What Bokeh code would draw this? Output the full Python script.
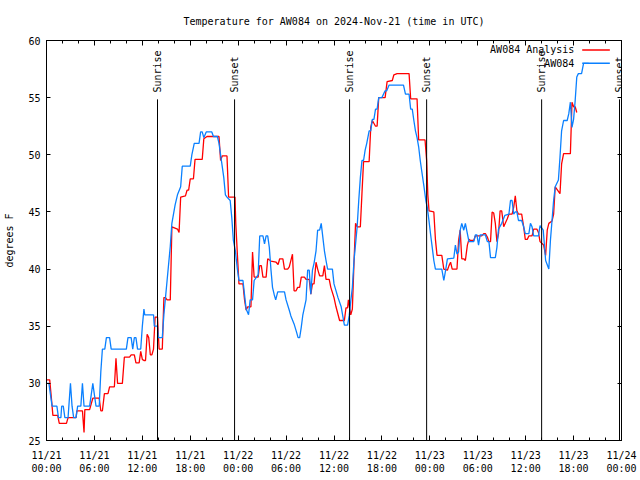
from math import pi
from bokeh.plotting import figure
from bokeh.models import FixedTicker, LinearAxis, Range1d
from bokeh.core.properties import value
from bokeh.embed import file_html
from bokeh.resources import INLINE

# ---------------- data ----------------
title_text = "Temperature for AW084 on 2024-Nov-21 (time in UTC)"
y_label = "degrees F"

x_tick_hours = [0, 6, 12, 18, 24, 30, 36, 42, 48, 54, 60, 66, 72]
x_tick_labels = ["11/21\n00:00", "11/21\n06:00", "11/21\n12:00", "11/21\n18:00",
                 "11/22\n00:00", "11/22\n06:00", "11/22\n12:00", "11/22\n18:00",
                 "11/23\n00:00", "11/23\n06:00", "11/23\n12:00", "11/23\n18:00",
                 "11/24\n00:00"]
x_minor_hours = list(range(0, 73, 2))
y_ticks = [25, 30, 35, 40, 45, 50, 55, 60]

sun_hours = [13.9, 23.55, 37.95, 47.6, 62.0, 71.75]
sun_labels = ["Sunrise", "Sunset", "Sunrise", "Sunset", "Sunrise", "Sunset"]

series_names = ["AW084 Analysis", "AW084"]
series_colors = ["#ff0000", "#0a80ff"]

# observed AW084 (hours since 11/21 00:00 UTC, deg F)
obs_hours = [0.0, 0.3, 0.5, 0.7, 1.3, 1.5, 1.8, 1.9, 2.1, 2.3, 2.7, 2.9, 3.0, 3.2, 3.4, 3.7,
             3.9, 4.3, 4.5, 4.7, 5.4, 5.6, 5.8, 6.0, 6.2, 6.6, 6.8, 7.0, 7.3, 7.5, 7.9, 8.1,
             10.0, 10.2, 10.6, 10.8, 11.0, 11.2, 11.4, 11.8, 12.0, 12.2, 12.3, 13.4, 13.5, 13.9,
             14.0, 14.5, 14.7, 15.1, 15.5, 15.7, 16.1, 16.4, 16.8, 17.0, 18.0, 18.2, 18.5, 19.1,
             19.3, 19.5, 19.7, 20.0, 20.7, 20.9, 21.4, 21.6, 21.8, 22.0, 22.2, 22.4, 22.6, 23.0,
             23.2, 23.4, 23.65, 23.9, 24.1, 24.6, 25.0, 25.3, 25.5, 25.8, 26.0, 26.5, 26.7, 27.1,
             27.3, 27.5, 27.7, 27.9, 28.1, 28.3, 28.5, 28.7, 28.95, 29.8, 30.0, 30.4, 30.6, 31.0,
             31.3, 31.5, 31.7, 31.9, 32.1, 32.5, 32.7, 32.9, 33.1, 33.3, 33.5, 33.75, 33.95, 34.2,
             34.4, 34.6, 34.8, 35.0, 35.2, 35.8, 36.0, 36.5, 36.9, 37.3, 37.7, 37.9, 38.1, 38.3,
             38.5, 38.9, 39.1, 39.3, 39.5, 39.7, 39.9, 40.1, 40.4, 40.6, 40.8, 41.0, 41.2, 41.4,
             41.6, 42.0, 42.4, 42.6, 42.9, 44.7, 44.95, 45.4, 45.6, 45.8, 46.0, 46.2, 46.4, 46.6,
             46.8, 47.0, 47.25, 47.5, 47.7, 47.9, 48.1, 48.3, 48.5, 48.7, 49.5, 49.75, 50.0, 50.2,
             51.0, 51.2, 51.4, 51.6, 51.8, 52.0, 52.25, 52.45, 52.7, 52.9, 53.5, 53.7, 53.9, 54.1,
             54.3, 54.95, 55.2, 55.4, 55.6, 56.2, 56.4, 56.6, 57.0, 57.4, 57.9, 58.1, 58.3, 58.5,
             58.7, 58.9, 59.1, 59.5, 59.75, 59.95, 60.4, 60.6, 60.8, 61.0, 61.6, 61.8, 62.2, 62.5,
             62.9, 63.1, 63.3, 63.5, 63.7, 64.1, 64.3, 64.5, 64.75, 65.2, 65.4, 65.6, 65.8, 66.0,
             66.2, 66.4, 66.6, 67.0, 67.25, 67.9]
obs_temps = [30, 30, 29, 28, 28, 27, 27, 28, 28, 27, 27, 29, 30, 28, 27, 27,
             28, 28, 30, 28, 28, 29, 30, 29, 28, 28, 31, 33, 33, 34, 34, 33,
             33, 34, 34, 33, 34, 34, 33, 33, 35, 36.5, 36, 36, 35, 35,
             34, 34, 36, 39, 42, 44, 45.6, 46.5, 47.2, 49, 49, 50, 51, 51,
             52, 52, 51.5, 52, 52, 51.6, 51.6, 51, 50, 49, 48, 46.5, 46.3, 46,
             44.5, 42.5, 41.6, 40, 39, 39, 36.5, 36, 37.3, 37.3, 39, 39.5, 42.9, 42.9,
             42.2, 42.9, 42.9, 41.9, 40, 38.4, 37.8, 37.3, 38, 38, 37.3, 36.4, 35.9, 35.2,
             34.5, 34, 34, 34.9, 36, 37.3, 39.9, 39.9, 37.8, 39.9, 40.5, 41.6, 43.4, 43.4,
             44, 42.8, 41.6, 40.75, 40, 40, 38.7, 37.5, 36.7, 35.1, 35.1, 35.9, 37.2, 38.4,
             40.7, 43.7, 46, 48, 49.5, 49.5, 50.4, 51, 52.1, 52.1, 53.1, 53.1, 54, 54,
             55, 55, 55.6, 55.6, 56.1, 56.1, 55.3, 55.3, 54, 54, 53, 52.1, 51.5, 50.7,
             49.5, 48.5, 47.3, 46, 45.3, 44.2, 43, 41.9, 40.75, 40, 40, 39, 40, 40.9,
             40.95, 42.1, 41.3, 41.5, 43.4, 44, 43.4, 44, 43.1, 42.4, 42.4, 43, 43, 42.1,
             43, 43, 42.4, 42.4, 41, 41, 41.9, 43.5, 44, 44.7, 44.8, 46, 46, 44.8,
             45, 45, 44.25, 44.25, 43.7, 43.1, 43.1, 44, 43.7, 42.9, 42.9, 43.8, 43.4, 40.75,
             40, 42.5, 44.25, 46, 47.2, 47.8, 49.8, 52.1, 53, 53, 53.6, 54.6, 52.4, 53.1,
             54.75, 56.8, 57.1, 57.1, 58, 58]

# analysis AW084 (hours since 11/21 00:00 UTC, deg F)
ana_hours = [0.0, 0.4, 0.6, 0.8, 1.4, 1.6, 2.5, 2.7, 3.7, 3.8, 4.5, 4.7, 4.8, 5.4, 5.6, 5.8,
             6.6, 6.8, 7.0, 7.25, 7.7, 7.9, 8.5, 8.7, 8.9, 9.5, 9.75, 10.4, 10.6, 11.0, 11.2, 11.6,
             11.8, 12.0, 12.2, 12.4, 12.6, 12.8, 13.0, 13.2, 13.4, 13.6, 13.9, 14.1, 14.5, 14.7,
             14.9, 15.1, 15.5, 15.7, 16.4, 16.6, 16.8, 17.4, 17.6, 17.8, 18.0, 18.4, 18.6, 19.5,
             19.7, 20.1, 21.6, 21.8, 22.0, 22.6, 22.8, 23.6, 23.7, 23.9, 24.1, 24.6, 24.8, 25.0,
             25.2, 25.6, 25.8, 26.0, 26.5, 26.7, 26.9, 27.1, 27.5, 27.7, 28.1, 28.75, 29.0, 29.2,
             29.6, 29.8, 30.2, 30.4, 30.8, 31.0, 31.25, 31.45, 31.7, 31.9, 32.3, 32.5, 32.9, 33.1,
             33.3, 33.5, 33.75, 33.95, 34.2, 34.6, 34.8, 35.0, 35.4, 35.6, 36.0, 36.25, 36.7, 37.3,
             37.5, 37.7, 37.8, 38.1, 38.3, 38.5, 38.7, 38.9, 39.3, 39.5, 39.7, 40.4, 40.6, 40.8,
             41.2, 41.4, 41.6, 42.4, 42.65, 43.3, 43.5, 43.9, 45.4, 45.6, 46.4, 46.6, 47.4, 47.6,
             47.75, 47.9, 48.5, 48.7, 48.9, 49.5, 49.75, 50.2, 50.4, 50.6, 50.8, 51.4, 51.6, 51.8,
             52.0, 52.25, 52.45, 52.7, 52.9, 53.1, 53.5, 53.7, 54.5, 54.75, 54.95, 55.2, 55.4, 55.6,
             55.8, 56.0, 56.2, 56.4, 56.6, 56.8, 57.0, 57.25, 57.5, 57.7, 57.9, 58.3, 58.5, 58.7,
             58.9, 59.1, 59.5, 59.75, 59.95, 60.2, 60.4, 60.8, 61.0, 61.4, 61.6, 61.8, 62.25, 62.5,
             62.7, 62.9, 63.3, 63.5, 63.7, 64.3, 64.5, 64.75, 65.6, 65.8, 66.0, 66.2, 66.4]
ana_temps = [30.3, 30.3, 28.8, 27.2, 27.2, 26.5, 26.5, 27, 27, 27.6, 27.6, 25.7, 27.7, 27.7, 28.2, 28.7,
             28.7, 27.6, 27.6, 29.1, 29.1, 29.7, 29.7, 32.2, 30, 30, 32.3, 32.3, 32.5, 32.5, 31.8, 31.8,
             32.8, 32.1, 32, 32, 34.3, 34, 32.5, 32.5, 33, 35.8, 35.8, 33, 33, 37.5,
             37.5, 37.3, 37.3, 43.7, 43.5, 43.2, 46.3, 46.4, 46.9, 46.9, 47.9, 47.9, 49.6, 49.6,
             51.4, 51.6, 51.6, 49.5, 49.9, 49.9, 46.3, 46.3, 44, 41.3, 38.7, 38.7, 37.3, 36.4,
             36.7, 36.7, 41.5, 39.3, 39.3, 40.3, 40.3, 39.3, 39.3, 40.9, 40.7, 40.6, 40.4, 40.9,
             40.9, 40, 40, 40.2, 41.3, 38.1, 38.1, 38.4, 38.4, 39.3, 39.3, 39.1, 39.1, 37.8,
             38.7, 38.7, 40.6, 40, 39.4, 39.4, 40.3, 39.1, 39.1, 38.4, 37.5, 36.7, 35.5, 35.5,
             36.6, 36.6, 37.3, 36, 36.5, 40.5, 44, 43.7, 43.7, 46.6, 49.4, 49.4, 52.4, 53,
             52.5, 52.5, 55, 55, 56.4, 56.5, 57, 57.1, 57.1, 54.9, 54.9, 51.3, 51.3, 49.5,
             46.5, 45.1, 45, 42.6, 41.2, 41.2, 40, 39.9, 40.3, 40.6, 40, 40, 42.5, 43.4,
             40.9, 40.9, 40.75, 42.1, 42.6, 42.5, 42.5, 42.9, 42.9, 43.1, 43.1, 42.8, 42.4, 42.4,
             45, 44.9, 44, 42.4, 43.1, 45.1, 45.1, 43.7, 44.1, 44.4, 44.8, 44.8, 45.4, 46.4,
             45.1, 44.8, 44.8, 43.7, 42.6, 42.6, 42.9, 42.9, 43.5, 43.5, 43.2, 42.4, 42.1, 41.2,
             43.4, 44, 44.2, 44.8, 47.2, 46.6, 49.2, 50.1, 50.1, 54.6, 54.2, 54.2, 53.7]

# ---------------- figure ----------------
FONT = "DejaVu Sans Mono"

p = figure(width=640, height=480, x_range=Range1d(0, 72), y_range=Range1d(25, 60),
           output_backend="svg", toolbar_location=None, title=title_text,
           min_border_left=46, min_border_right=19, min_border_top=40, min_border_bottom=40)
p.title.align = "center"
p.title.text_font = FONT
p.title.text_font_size = "10px"
p.title.text_font_style = "normal"
p.title.text_color = "black"
p.title.standoff = 27

p.grid.visible = False
p.outline_line_color = "black"
p.outline_line_width = 1
p.background_fill_color = "white"
p.border_fill_color = "white"

# bottom axis
xa = p.xaxis[0]
xa.ticker = FixedTicker(ticks=x_tick_hours, minor_ticks=x_minor_hours)
xa.major_label_overrides = {h: lab for h, lab in zip(x_tick_hours, x_tick_labels)}
xa.major_label_text_font = FONT
xa.major_label_text_font_size = "10px"
xa.major_label_text_color = "black"
xa.major_label_standoff = 9
xa.major_tick_in = 5
xa.major_tick_out = 0
xa.minor_tick_in = 3
xa.minor_tick_out = 0
xa.axis_line_color = "black"
xa.major_tick_line_color = "black"
xa.minor_tick_line_color = "black"

# left axis
ya = p.yaxis[0]
ya.ticker = FixedTicker(ticks=y_ticks)
ya.major_label_text_font = FONT
ya.major_label_text_font_size = "10px"
ya.major_label_text_color = "black"
ya.major_label_standoff = 6
ya.major_tick_in = 4
ya.major_tick_out = 0
ya.minor_tick_line_color = None
ya.axis_line_color = "black"
ya.axis_label = y_label
ya.axis_label_text_font = FONT
ya.axis_label_text_font_size = "10px"
ya.axis_label_text_font_style = "normal"
ya.axis_label_text_color = "black"
ya.axis_label_standoff = 10

# mirrored tick axes (labels not painted)
top = LinearAxis(ticker=FixedTicker(ticks=x_tick_hours, minor_ticks=x_minor_hours),
                 major_label_text_font_size="1px", major_label_text_color=None,
                 major_label_standoff=0,
                 major_tick_in=5, major_tick_out=0, minor_tick_in=3, minor_tick_out=0,
                 axis_line_color="black")
p.add_layout(top, "above")
right = LinearAxis(ticker=FixedTicker(ticks=y_ticks),
                   major_label_text_font_size="1px", major_label_text_color=None,
                   major_label_standoff=0,
                   major_tick_in=4, major_tick_out=0, minor_tick_line_color=None,
                   axis_line_color="black")
p.add_layout(right, "right")

# data lines
p.line(ana_hours, ana_temps, line_color=series_colors[0], line_width=1.3)
p.line(obs_hours, obs_temps, line_color=series_colors[1], line_width=1.3)

# sunrise / sunset markers
p.segment(x0=sun_hours, y0=[25] * len(sun_hours), x1=sun_hours, y1=[54.85] * len(sun_hours),
          line_color="black", line_width=1)
p.text(x=sun_hours, y=[55.45] * len(sun_hours), text=sun_labels, angle=pi / 2,
       text_align="left", text_baseline="middle", text_font=value(FONT),
       text_font_size="10px", text_color="black")

# legend (gnuplot style: label left of sample)
leg_y = [59.17, 58.01]
p.text(x=[66.1, 66.1], y=leg_y, text=series_names, text_align="right",
       text_baseline="middle", text_font=value(FONT), text_font_size="10px",
       text_color="black")
for yy, col in zip(leg_y, series_colors):
    p.line([67.08, 70.54], [yy, yy], line_color=col, line_width=1.3)

open("out.html", "w").write(file_html(p, INLINE))
